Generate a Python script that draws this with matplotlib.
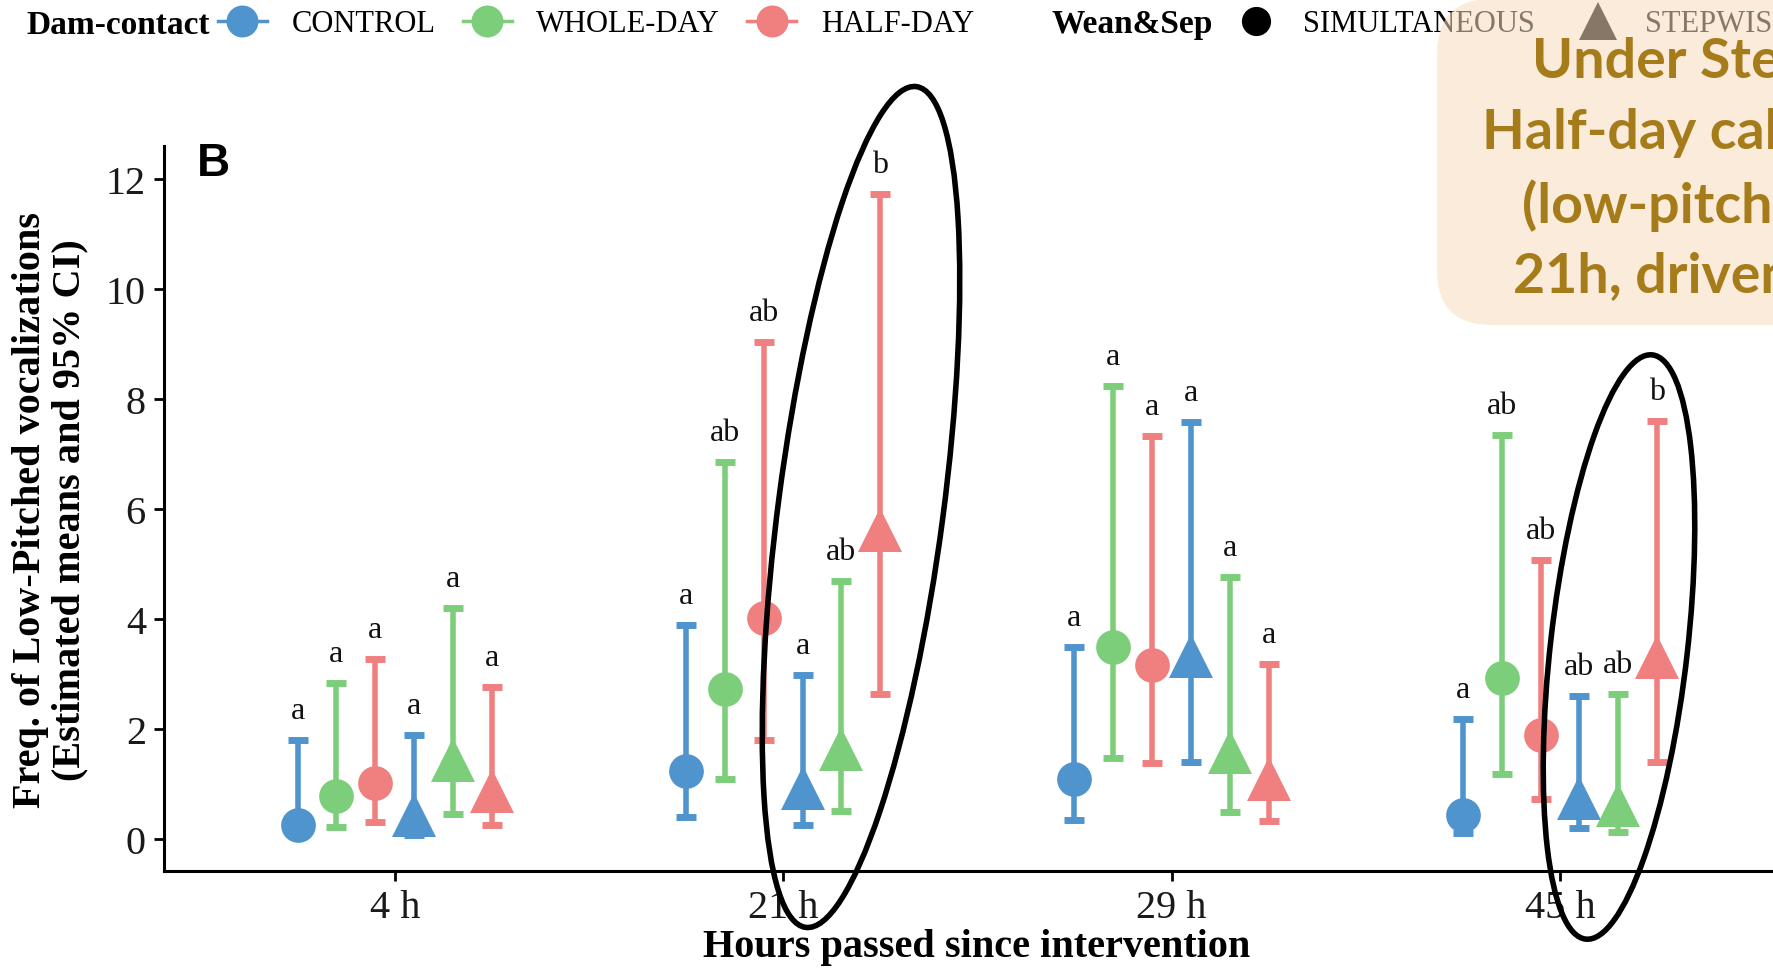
import matplotlib
matplotlib.use("Agg")
import matplotlib.pyplot as plt
from matplotlib.lines import Line2D
from matplotlib.patches import Ellipse, FancyBboxPatch
import numpy as np

# ---------------- data ----------------
hours = ['4 h', '21 h', '29 h', '45 h']
dam_levels = ['CONTROL', 'WHOLE-DAY', 'HALF-DAY']
wean_levels = ['SIMULTANEOUS', 'STEPWISE']

ctrl_sim_mean = [0.25, 1.24, 1.09, 0.44]
ctrl_sim_lo = [0.08, 0.40, 0.35, 0.11]
ctrl_sim_hi = [1.80, 3.90, 3.49, 2.19]
ctrl_sim_lab = ['a', 'a', 'a', 'a']

whole_sim_mean = [0.79, 2.73, 3.49, 2.93]
whole_sim_lo = [0.22, 1.09, 1.47, 1.18]
whole_sim_hi = [2.83, 6.85, 8.24, 7.35]
whole_sim_lab = ['a', 'ab', 'a', 'ab']

half_sim_mean = [1.02, 4.02, 3.16, 1.90]
half_sim_lo = [0.31, 1.80, 1.38, 0.72]
half_sim_hi = [3.27, 9.04, 7.33, 5.08]
half_sim_lab = ['a', 'ab', 'a', 'ab']

ctrl_step_mean = [0.43, 0.93, 3.33, 0.75]
ctrl_step_lo = [0.08, 0.25, 1.41, 0.20]
ctrl_step_hi = [1.89, 2.98, 7.58, 2.61]
ctrl_step_lab = ['a', 'a', 'a', 'ab']

whole_step_mean = [1.43, 1.64, 1.59, 0.62]
whole_step_lo = [0.45, 0.51, 0.49, 0.13]
whole_step_hi = [4.20, 4.69, 4.76, 2.64]
whole_step_lab = ['a', 'ab', 'a', 'ab']

half_step_mean = [0.87, 5.62, 1.09, 3.31]
half_step_lo = [0.25, 2.63, 0.33, 1.40]
half_step_hi = [2.77, 11.73, 3.19, 7.60]
half_step_lab = ['a', 'b', 'a', 'b']

yticks = [0, 2, 4, 6, 8, 10, 12]

# ---------------- style ----------------
colors = {'CONTROL': '#5094CE', 'WHOLE-DAY': '#7DCE7B', 'HALF-DAY': '#F08080'}
markers = {'SIMULTANEOUS': 'o', 'STEPWISE': '^'}
msizes = {'SIMULTANEOUS': 25, 'STEPWISE': 31}
serif = 'Liberation Serif'

series = [
    ('CONTROL', 'SIMULTANEOUS', ctrl_sim_mean, ctrl_sim_lo, ctrl_sim_hi, ctrl_sim_lab),
    ('WHOLE-DAY', 'SIMULTANEOUS', whole_sim_mean, whole_sim_lo, whole_sim_hi, whole_sim_lab),
    ('HALF-DAY', 'SIMULTANEOUS', half_sim_mean, half_sim_lo, half_sim_hi, half_sim_lab),
    ('CONTROL', 'STEPWISE', ctrl_step_mean, ctrl_step_lo, ctrl_step_hi, ctrl_step_lab),
    ('WHOLE-DAY', 'STEPWISE', whole_step_mean, whole_step_lo, whole_step_hi, whole_step_lab),
    ('HALF-DAY', 'STEPWISE', half_step_mean, half_step_lo, half_step_hi, half_step_lab),
]

W, H, DPI = 1773, 970, 100
fig = plt.figure(figsize=(W / DPI, H / DPI), dpi=DPI)
fig.patch.set_facecolor('white')

# axes position in pixels: left 164, bottom 872 (from top), top 147; right extends past figure edge
ax_left, ax_right, ax_top, ax_bottom = 164, 1793, 147, 872
ax = fig.add_axes([ax_left / W, (H - ax_bottom) / H, (ax_right - ax_left) / W, (ax_bottom - ax_top) / H])

base = np.arange(len(hours))
dodge = 0.1
n = len(series)
for i, (dam, wean, mean, lo, hi, lab) in enumerate(series):
    x = base + (i - (n - 1) / 2) * dodge
    mean = np.array(mean); lo = np.array(lo); hi = np.array(hi)
    c = colors[dam]
    ax.errorbar(x, mean, yerr=[mean - lo, hi - mean], fmt='none', ecolor=c,
                elinewidth=4, capsize=7.5, capthick=5, zorder=2)
    ax.plot(x, mean, linestyle='none', marker=markers[wean], markersize=msizes[wean],
            color=c, markeredgewidth=0, zorder=3)
    for xi, hv, t in zip(x, hi, lab):
        ax.text(xi, hv + 0.4, t, ha='center', va='baseline', fontsize=23,
                family=serif, color='#111111', zorder=4)

ax.set_xlim(-0.594, 3.6)
ax.set_ylim(-0.58, 12.6)
ax.set_xticks(base)
ax.set_xticklabels(hours)
ax.set_yticks(yticks)
ax.set_yticklabels([str(v) for v in yticks])
for lbl in ax.get_xticklabels() + ax.get_yticklabels():
    lbl.set_family(serif)
    lbl.set_fontsize(29)
    lbl.set_color('#1a1a1a')
ax.tick_params(axis='both', length=7, width=2, color='black', pad=6)
for s in ['top', 'right']:
    ax.spines[s].set_visible(False)
for s in ['left', 'bottom']:
    ax.spines[s].set_linewidth(2.2)
    ax.spines[s].set_color('black')

# axis labels
fig.text(50 / W, 1 - 510 / H, 'Freq. of Low-Pitched vocalizations\n(Estimated means and 95% CI)',
         rotation=90, ha='center', va='center', multialignment='center',
         fontsize=29, fontweight='bold', family=serif, linespacing=1.1)
fig.text(977 / W, 1 - 948 / H, 'Hours passed since intervention', ha='center', va='center',
         fontsize=29, fontweight='bold', family=serif)

# panel letter
fig.text(213 / W, 1 - 164 / H, 'B', ha='center', va='center', fontsize=33,
         fontweight='bold', family='Liberation Sans')

# ---------------- legends ----------------
fig.text(26 / W, 1 - 25 / H, 'Dam-contact', ha='left', va='center', fontsize=24,
         fontweight='bold', family=serif)
dam_handles = [Line2D([0], [0], color=colors[d], marker='o', linestyle='-', linewidth=2.5,
                      markersize=23, markeredgewidth=0) for d in dam_levels]
leg1 = fig.legend(dam_handles, dam_levels, ncol=3, loc='center left',
                  bbox_to_anchor=(218 / W, 1 - 25 / H), frameon=False,
                  prop={'family': serif, 'size': 22}, handlelength=1.6,
                  handletextpad=0.8, columnspacing=0.9, borderpad=0, borderaxespad=0)

fig.text(1052 / W, 1 - 25 / H, 'Wean&Sep', ha='left', va='center', fontsize=24,
         fontweight='bold', family=serif)
wean_handles = [Line2D([0], [0], color='black', marker=markers[w], linestyle='none',
                       markersize=msizes[w] - 4, markeredgewidth=0) for w in wean_levels]
leg2 = fig.legend(wean_handles, wean_levels, ncol=2, loc='center left',
                  bbox_to_anchor=(1236 / W, 1 - 25 / H), frameon=False,
                  prop={'family': serif, 'size': 22}, handlelength=1.3,
                  handletextpad=0.9, columnspacing=1.4, borderpad=0, borderaxespad=0)

# ---------------- annotation box ----------------
box = FancyBboxPatch((14.37, (H - 326) / DPI), 5.0, 326 / DPI,
                     boxstyle='round,pad=0,rounding_size=0.55',
                     transform=fig.dpi_scale_trans, facecolor='#F6DBBC', alpha=0.55,
                     edgecolor='none', zorder=10)
fig.patches.append(box)
ann_col = '#A67C1A'
ann_lines = ['Under Stepwise weaning,', 'Half-day calves peaked', '(low-pitched calls) at',
             '21h, driven by stress']
ann_x = [1532, 1482, 1522, 1513]
ann_y = [62, 133, 206, 277]
for t, xp, yp in zip(ann_lines, ann_x, ann_y):
    fig.text(xp / W, 1 - yp / H, t, ha='left', va='center', fontsize=40,
             fontweight='bold', family='Lato', color=ann_col, zorder=11)

# ---------------- highlight ellipses ----------------
for cx, cy, minor, major, ang in [(861, 508, 165, 848, -7.5), (1619, 648, 137, 588, -6.5)]:
    e = Ellipse((cx / DPI, (H - cy) / DPI), minor / DPI, major / DPI, angle=ang,
                transform=fig.dpi_scale_trans, fill=False, edgecolor='black',
                linewidth=4, zorder=12)
    fig.patches.append(e)

fig.savefig('out.png', dpi=DPI)
